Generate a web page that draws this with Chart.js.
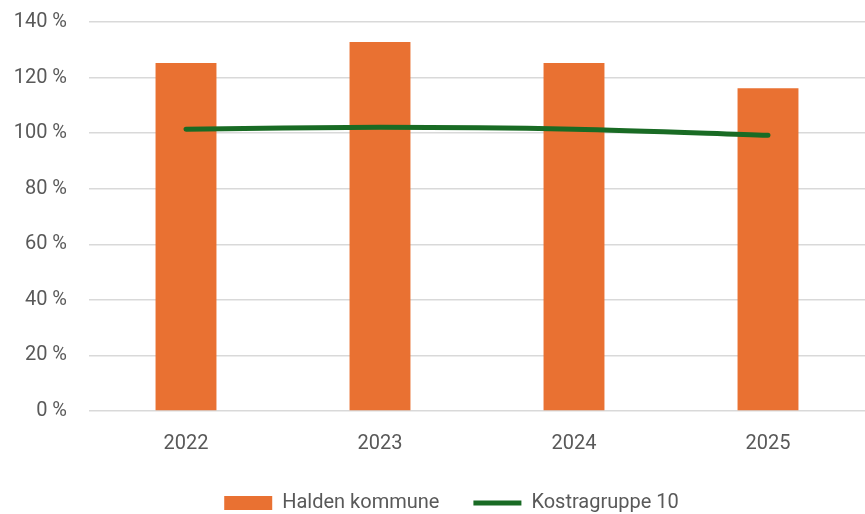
<!DOCTYPE html>
<html>
<head>
<meta charset="utf-8">
<script src="https://cdn.jsdelivr.net/npm/chart.js@4/dist/chart.umd.min.js"></script>
<style>
  html, body { margin: 0; padding: 0; background: #fff; }
  #wrap { width: 865px; height: 514px; }
</style>
</head>
<body>
<div id="wrap"><canvas id="chart"></canvas></div>
<script>
    "use strict";

    // data
    var years = ['2022', '2023', '2024', '2025'];
    var halden = [125.2, 132.8, 125.2, 116.2];
    var kostra = [101.4, 102.1, 101.4, 99.2];
    var yTicks = [0, 20, 40, 60, 80, 100, 120, 140];

    var grey = '#595959';
    var family = 'Roboto, "Noto Sans", sans-serif';

    // nudge the legend a bit right so it sits where the original one does
    var legendShift = {
        id: 'legendShift',
        afterLayout: function (chart) {
            if (chart.legend) {
                chart.legend.left += 28;
            }
        }
    };

    var ctx = document.getElementById('chart').getContext('2d');

    var myChart = new Chart(ctx, {
        data: {
            labels: years,
            datasets: [{
                    type: 'line',
                    label: 'Kostragruppe 10',
                    data: kostra,
                    borderColor: '#196B24',
                    backgroundColor: '#196B24',
                    borderWidth: 5,
                    borderCapStyle: 'round',
                    tension: 0.3,
                    pointRadius: 0,
                    pointHoverRadius: 0,
                    pointStyle: 'line',
                    order: 0
                }, {
                    type: 'bar',
                    label: 'Halden kommune',
                    data: halden,
                    backgroundColor: '#E97132',
                    borderWidth: 0,
                    barPercentage: 0.314,
                    categoryPercentage: 1,
                    pointStyle: 'rect',
                    order: 1
                }]
        },
        options: {
            responsive: true,
            maintainAspectRatio: false,
            animation: false,
            layout: {
                padding: { left: 10, right: 0, top: 22, bottom: -9 }
            },
            scales: {
                x: {
                    grid: { display: false, drawTicks: false },
                    border: { display: false },
                    ticks: { color: grey, font: { family: family, size: 20 }, padding: 21 },
                    afterFit: function (axis) { axis.height = 48; }
                },
                y: {
                    min: 0,
                    max: 140,
                    afterBuildTicks: function (axis) {
                        axis.ticks = yTicks.map(function (v) { return { value: v }; });
                    },
                    afterFit: function (axis) {
                        axis.width = 79;
                        axis.paddingTop = 0;
                        axis.paddingBottom = 0;
                    },
                    grid: { color: '#d9d9d9', lineWidth: 1.5, drawTicks: false },
                    border: { display: false },
                    ticks: {
                        color: grey,
                        font: { family: family, size: 20 },
                        padding: 22,
                        callback: function (v) { return v + ' %'; }
                    }
                }
            },
            plugins: {
                tooltip: { enabled: false },
                legend: {
                    position: 'bottom',
                    reverse: true,
                    labels: {
                        usePointStyle: true,
                        pointStyleWidth: 48,
                        boxHeight: 14,
                        padding: 34,
                        color: grey,
                        font: { family: family, size: 20 }
                    }
                }
            }
        },
        plugins: [legendShift]
    });
</script>
</body>
</html>
